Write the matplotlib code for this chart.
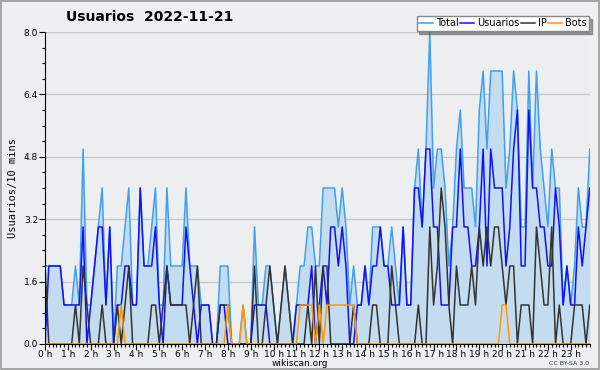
import matplotlib
matplotlib.use("Agg")
import matplotlib.pyplot as plt
from matplotlib.patches import Rectangle
from matplotlib.ticker import MultipleLocator

# one value every 10 minutes, 144 per day
total = [2, 2, 2, 2, 2, 1, 1, 1, 2, 1, 5, 1,
         1, 2, 3, 4, 1, 3, 0, 2, 2, 3, 4, 1,
         1, 4, 2, 2, 3, 4, 1, 1, 4, 2, 2, 2,
         2, 4, 2, 2, 2, 1, 1, 1, 0, 0, 2, 2,
         2, 0, 0, 0, 1, 0, 0, 3, 1, 1, 2, 2,
         1, 0, 1, 2, 1, 0, 1, 2, 2, 3, 3, 2,
         2, 4, 4, 4, 4, 3, 4, 3, 1, 2, 1, 1,
         2, 1, 3, 3, 3, 2, 2, 3, 2, 1, 3, 1,
         1, 4, 5, 3, 5, 8, 4, 5, 5, 4, 2, 3,
         5, 6, 4, 4, 4, 3, 6, 7, 5, 7, 7, 7,
         7, 4, 5, 7, 6, 3, 3, 7, 4, 7, 5, 4,
         3, 5, 4, 4, 1, 2, 1, 2, 4, 3, 3, 5]
usuarios = [0, 2, 2, 2, 2, 1, 1, 1, 1, 1, 3, 0,
            1, 2, 3, 3, 1, 3, 0, 1, 1, 2, 2, 1,
            1, 4, 2, 2, 2, 3, 1, 0, 2, 1, 1, 1,
            1, 3, 2, 1, 0, 1, 1, 1, 0, 0, 1, 1,
            0, 0, 0, 0, 0, 0, 0, 1, 1, 1, 1, 0,
            0, 0, 0, 0, 0, 0, 1, 1, 1, 1, 2, 0,
            1, 2, 1, 3, 3, 2, 3, 2, 0, 0, 1, 1,
            2, 1, 2, 2, 3, 2, 2, 1, 1, 1, 3, 1,
            1, 4, 4, 3, 5, 5, 3, 3, 1, 1, 1, 3,
            3, 5, 3, 3, 2, 2, 3, 5, 2, 5, 4, 4,
            4, 2, 3, 5, 6, 2, 2, 6, 4, 4, 3, 3,
            2, 2, 4, 3, 1, 2, 1, 1, 3, 2, 3, 4]
ip = [2, 0, 0, 0, 0, 0, 0, 0, 1, 0, 2, 1,
      0, 0, 0, 1, 0, 0, 0, 1, 0, 1, 2, 0,
      0, 0, 0, 0, 1, 1, 0, 1, 2, 1, 1, 1,
      1, 1, 0, 1, 2, 0, 0, 0, 0, 0, 1, 1,
      1, 0, 0, 0, 0, 0, 0, 2, 0, 0, 1, 2,
      1, 0, 1, 2, 1, 0, 0, 0, 0, 1, 0, 2,
      0, 2, 2, 0, 0, 0, 0, 0, 0, 1, 0, 0,
      0, 0, 1, 1, 0, 0, 0, 2, 1, 0, 0, 0,
      0, 0, 1, 0, 0, 3, 1, 2, 4, 3, 1, 0,
      2, 1, 1, 1, 2, 1, 3, 2, 3, 2, 3, 3,
      2, 1, 2, 2, 0, 1, 1, 1, 0, 3, 2, 1,
      1, 3, 0, 1, 0, 0, 0, 1, 1, 1, 0, 1]
bots = [0, 0, 0, 0, 0, 0, 0, 0, 0, 0, 0, 0,
        0, 0, 0, 0, 0, 0, 0, 0, 1, 0, 0, 0,
        0, 0, 0, 0, 0, 0, 0, 0, 0, 0, 0, 0,
        0, 0, 0, 0, 0, 0, 0, 0, 0, 0, 0, 0,
        1, 0, 0, 0, 1, 0, 0, 0, 0, 0, 0, 0,
        0, 0, 0, 0, 0, 0, 0, 1, 1, 1, 1, 0,
        1, 0, 1, 1, 1, 1, 1, 1, 1, 1, 0, 0,
        0, 0, 0, 0, 0, 0, 0, 0, 0, 0, 0, 0,
        0, 0, 0, 0, 0, 0, 0, 0, 0, 0, 0, 0,
        0, 0, 0, 0, 0, 0, 0, 0, 0, 0, 0, 0,
        1, 1, 0, 0, 0, 0, 0, 0, 0, 0, 0, 0,
        0, 0, 0, 0, 0, 0, 0, 0, 0, 0, 0, 0]
hour_labels = [f"{h} h" for h in range(24)]

x = list(range(len(total)))

fig = plt.figure(figsize=(6, 3.7), dpi=100, facecolor="#eeeff1")
ax = fig.add_axes([0.075, 0.0703, 0.908, 0.8432])
ax.set_facecolor("#eceef0")

ax.fill_between(x, total, 0, color="#c4dcf0", lw=0)
ax.plot(x, total, color="#3f9ff0", lw=1.1, label="Total")
ax.plot(x, usuarios, color="#1010ff", lw=1.1, label="Usuarios")
ax.plot(x, ip, color="#333333", lw=1.1, label="IP")
ax.plot(x, bots, color="#ff9900", lw=1.1, label="Bots")

ax.set_xlim(0, 143)
ax.set_ylim(0, 8)
ax.yaxis.set_minor_locator(MultipleLocator(0.4))
ax.set_yticks([0, 1.6, 3.2, 4.8, 6.4, 8.0])
ax.set_yticklabels(["0.0", "1.6", "3.2", "4.8", "6.4", "8.0"])
ax.set_xticks(range(0, 144, 6))
ax.set_xticklabels(hour_labels)
ax.xaxis.set_minor_locator(MultipleLocator(1))
ax.tick_params(labelsize=6.5, length=4, width=0.8, pad=1)
ax.tick_params(axis="x", pad=0)
ax.tick_params(which="minor", length=2.5, width=0.8)
ax.grid(axis="y", color="#c8c8c8", lw=1)
ax.set_axisbelow(True)
for s in ["top", "right"]:
    ax.spines[s].set_visible(False)

ax.set_ylabel("Usuarios/10 mins", family="DejaVu Sans Mono", fontsize=7.5, labelpad=4)
fig.text(0.5, 1 - 363.5 / 370, "wikiscan.org", fontsize=6.5, ha="center", va="center")

fig.text(0.25, 1 - 17 / 370, "Usuarios  2022-11-21", fontsize=10, fontweight="bold",
         ha="center", va="center")
fig.text(0.982, 1 - 363.5 / 370, "CC BY-SA 3.0", fontsize=4.5, ha="right", va="center",
         color="#333333")

leg = fig.legend(loc="upper right", bbox_to_anchor=(589 / 600, 1 - 16 / 370), ncol=4,
                 fontsize=7, frameon=True, shadow=True, fancybox=False,
                 handlelength=1.4, handletextpad=0.3, columnspacing=0.2,
                 borderpad=0.25, borderaxespad=0)
leg.get_frame().set_edgecolor("#888888")
leg.get_frame().set_facecolor("white")

fig.patches.append(Rectangle((0.001, 0.002), 0.997, 0.995, transform=fig.transFigure,
                             fill=False, edgecolor="#999999", lw=1.2))

fig.savefig("out.png", dpi=100, facecolor=fig.get_facecolor())
